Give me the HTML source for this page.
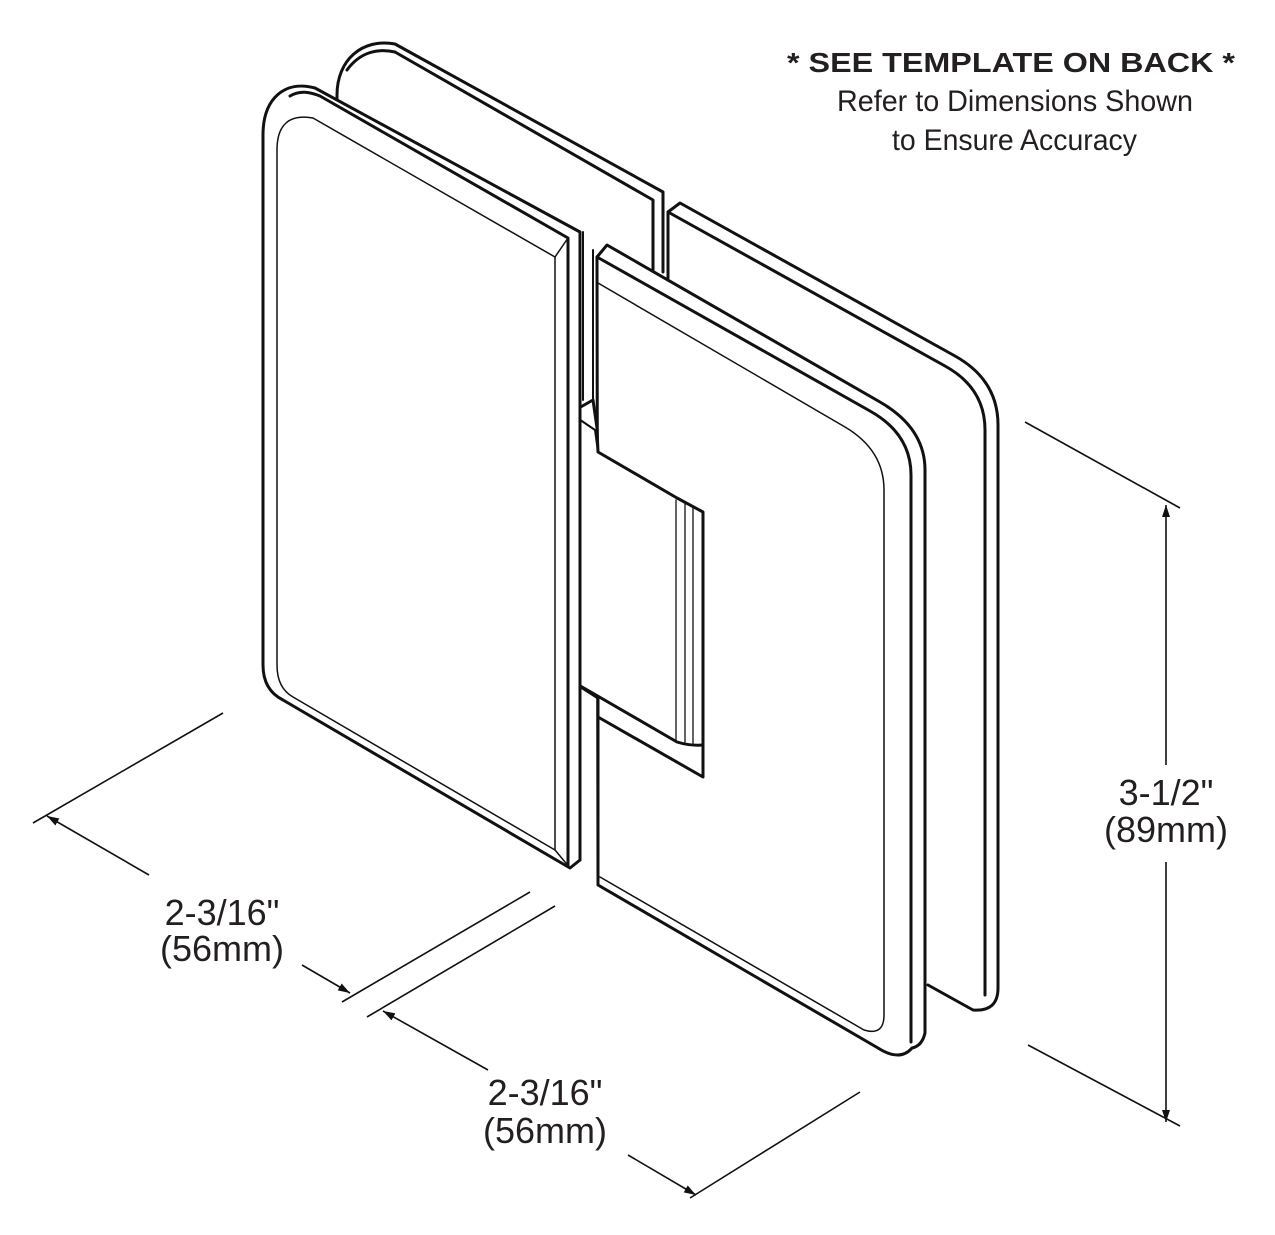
<!DOCTYPE html>
<html><head><meta charset="utf-8"><style>
html,body{margin:0;padding:0;background:#fff;}
svg{display:block;}
text{font-family:"Liberation Sans",sans-serif;fill:#231f20;}
</style></head><body>
<svg width="1275" height="1235" viewBox="0 0 1275 1235" xmlns="http://www.w3.org/2000/svg">
<defs>
<marker id="ar" viewBox="0 0 12 8" refX="12" refY="4" markerWidth="12" markerHeight="8" orient="auto" markerUnits="userSpaceOnUse">
<path d="M0,0 L12,4 L0,8 Z" fill="#111"/></marker>
</defs>
<g fill="#fff" stroke="#111" stroke-linejoin="round" stroke-linecap="round">
<!-- back left plate -->
<path d="M337,110 L337,95 C337,60 362,38 395,44 L663,192 L663,270 L600,250 L337,110 Z" stroke="none"/>
<path d="M337,110 L337,95 C337,60 362,38 395,44 L663,192 L663,272" fill="none" stroke-width="3"/>
<path d="M347,70 C360,52 378,48 395,52 L653,200 L653,275" fill="none" stroke-width="3"/>
<!-- back right plate -->
<path d="M668,212 L680,203 L955,356 Q998,380 998,425 L998,988 Q998,1012 973,1010 L928,985 L668,835 Z" stroke="none"/>
<path d="M668,278 L668,212 L680,203 L955,356 Q998,380 998,425 L998,988 Q998,1012 973,1010 L928,985" fill="none" stroke-width="3"/>
<path d="M668,212 L945,366 Q985,388 985,430 L985,995" fill="none" stroke-width="3"/>
<!-- right front plate -->
<path d="M597,257 L607,245 L880,402 Q925,428 925,470 L925,1033 Q922,1046 912,1048 Q900,1062 878,1048 L598,885 Z" stroke-width="3"/>
<path d="M597,257 L870,411 Q911,434 911,475 L911,1042" fill="none" stroke-width="3"/>
<path d="M598,283 L845,427 Q884,450 884,490 L884,1015 Q884,1036 864,1030 L600,877" fill="none" stroke-width="1.5"/>
<!-- hinge body -->
<path d="M570,413 L593,400 L597,428 L598,452 L677,498 L703,512 L703,777 L598,717 L598,698 L570,680 Z" stroke-width="3"/>
<path d="M570,413 L595,430 L598,452" fill="none" stroke-width="2"/>
<path d="M570,680 L677,742 Q690,746 703,745" fill="none" stroke-width="3"/>
<path d="M676,500 L676,740 M685,504 L685,742 M693,508 L693,744" fill="none" stroke-width="1.3"/>
<path d="M580,686 L580,860 M598,698 L598,880" fill="none" stroke-width="3"/>
<path d="M583,232 L583,400 M593,400 L593,250" fill="none" stroke-width="2"/>
<!-- left front plate -->
<path d="M263,135 C263,98 285,80 315,88 L580,232 L580,860 L570,868 L283,700 Q263,690 263,665 Z" stroke-width="3"/>
<path d="M290,96 C300,90 310,92 320,96 L568,238 L568,866" fill="none" stroke-width="3"/>
<path d="M277,150 Q277,112 313,118 L555,257 L555,850 L293,697 Q277,688 277,665 Z" fill="none" stroke-width="1.5"/>
<path d="M568,238 L555,257 M555,850 L570,868" fill="none" stroke-width="1.5"/>
</g>
<!-- dimensions -->
<g stroke="#111" stroke-width="1.6" fill="none">
<line x1="223" y1="713" x2="33" y2="823"/>
<line x1="149" y1="875" x2="47" y2="816" marker-end="url(#ar)"/>
<line x1="302" y1="965" x2="350" y2="993" marker-end="url(#ar)"/>
<line x1="530" y1="892" x2="342" y2="1002"/>
<line x1="555" y1="906" x2="367" y2="1017"/>
<line x1="488" y1="1070" x2="383" y2="1011" marker-end="url(#ar)"/>
<line x1="628" y1="1155" x2="696" y2="1195" marker-end="url(#ar)"/>
<line x1="860" y1="1092" x2="690" y2="1198"/>
<line x1="1025" y1="422" x2="1180" y2="508"/>
<line x1="1028" y1="1045" x2="1180" y2="1126"/>
<line x1="1166" y1="765" x2="1166" y2="505" marker-end="url(#ar)"/>
<line x1="1166" y1="862" x2="1166" y2="1122" marker-end="url(#ar)"/>
</g>
<g font-size="36" text-anchor="middle">
<text x="222" y="925">2-3/16"</text>
<text x="222" y="961">(56mm)</text>
<text x="545" y="1105">2-3/16"</text>
<text x="545" y="1143">(56mm)</text>
<text x="1166" y="805">3-1/2"</text>
<text x="1166" y="842">(89mm)</text>
</g>
<text x="787" y="72" font-size="28" font-weight="bold" textLength="448" lengthAdjust="spacingAndGlyphs">* SEE TEMPLATE ON BACK *</text>
<text x="837" y="111" font-size="30" textLength="356" lengthAdjust="spacingAndGlyphs">Refer to Dimensions Shown</text>
<text x="892" y="150" font-size="30" textLength="245" lengthAdjust="spacingAndGlyphs">to Ensure Accuracy</text>
</svg>
</body></html>
